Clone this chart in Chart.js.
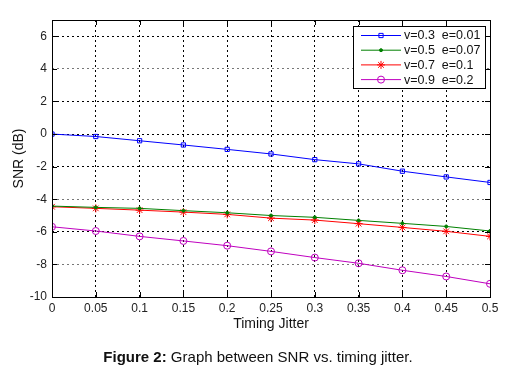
<!DOCTYPE html>
<html><head><meta charset="utf-8">
<script src="https://cdn.jsdelivr.net/npm/chart.js@4/dist/chart.umd.min.js"></script>
<style>
html,body{margin:0;padding:0;background:#fff;}
#wrap{position:relative;width:526px;height:381px;}
#cap{position:absolute;left:0;width:516px;top:348px;text-align:center;font:15px "Liberation Sans",Arial,sans-serif;color:#111;}
</style></head>
<body>
<div id="wrap"><canvas id="c" width="526" height="381"></canvas>
<div id="cap"><b>Figure 2:</b> Graph between SNR vs. timing jitter.</div></div>
<script>
const jitter = [0,0.05,0.1,0.15,0.2,0.25,0.3,0.35,0.4,0.45,0.5];
const xTickLabels = ['0','0.05','0.1','0.15','0.2','0.25','0.3','0.35','0.4','0.45','0.5'];
const yTicks = [-10,-8,-6,-4,-2,0,2,4,6];
const labels = ['v=0.3  e=0.01','v=0.5  e=0.07','v=0.7  e=0.1','v=0.9  e=0.2'];
const snrA = [0.0,-0.15,-0.41,-0.67,-0.94,-1.22,-1.57,-1.83,-2.28,-2.63,-2.97];
const snrB = [-4.42,-4.5,-4.56,-4.7,-4.83,-5.0,-5.11,-5.3,-5.48,-5.67,-5.95];
const snrC = [-4.46,-4.56,-4.67,-4.79,-4.93,-5.16,-5.28,-5.5,-5.73,-5.97,-6.28];
const snrD = [-5.69,-5.95,-6.28,-6.56,-6.85,-7.2,-7.58,-7.93,-8.36,-8.74,-9.19];

const colors = ['#0000ff','#008000','#ff0000','#bf00bf'];
const styles = [
  {pointStyle:'rect', radius:3, fill:false},
  {pointStyle:'circle', radius:1.5, fill:true},
  {pointStyle:'star', radius:4, fill:false},
  {pointStyle:'circle', radius:3.5, fill:false}
];
const series = [snrA,snrB,snrC,snrD];
const FONT = '"Liberation Sans", Arial, sans-serif';

const datasets = series.map((s,i)=>({
  label: labels[i],
  data: s.map((v,j)=>({x:jitter[j], y:v})),
  borderColor: colors[i],
  backgroundColor: styles[i].fill ? colors[i] : 'rgba(0,0,0,0)',
  borderWidth: 1,
  pointStyle: styles[i].pointStyle,
  pointRadius: styles[i].radius,
  pointBorderWidth: 1,
  pointBorderColor: colors[i],
  pointBackgroundColor: styles[i].fill ? colors[i] : 'rgba(0,0,0,0)',
  tension: 0
}));

const framePlugin = {
  id:'frame',
  afterDatasetsDraw(chart){
    const {ctx, chartArea:a, scales} = chart;
    ctx.save();
    ctx.strokeStyle = '#000';
    ctx.lineWidth = 1;
    ctx.strokeRect(Math.round(a.left)+0.5, Math.round(a.top)+0.5, Math.round(a.right-a.left), Math.round(a.bottom-a.top));
    ctx.beginPath();
    scales.x.ticks.forEach(t=>{
      const px = Math.round(scales.x.getPixelForValue(t.value))+0.5;
      ctx.moveTo(px,a.bottom); ctx.lineTo(px,a.bottom-5);
      ctx.moveTo(px,a.top); ctx.lineTo(px,a.top+5);
    });
    scales.y.ticks.forEach(t=>{
      const py = Math.round(scales.y.getPixelForValue(t.value))+0.5;
      ctx.moveTo(a.left,py); ctx.lineTo(a.left+5,py);
      ctx.moveTo(a.right,py); ctx.lineTo(a.right-5,py);
    });
    ctx.stroke();
    // legend box
    const lx=353.5, ly=26.5, lw=132, lh=62;
    ctx.fillStyle='#fff';
    ctx.fillRect(lx,ly,lw,lh);
    ctx.strokeStyle='#000';
    ctx.strokeRect(lx,ly,lw,lh);
    ctx.font = '12.5px '+FONT;
    ctx.textBaseline='middle';
    ctx.textAlign='left';
    chart.data.datasets.forEach((d,i)=>{
      const y = 35.5 + i*14.7;
      ctx.strokeStyle = d.borderColor;
      ctx.lineWidth = 1;
      ctx.beginPath(); ctx.moveTo(361,y); ctx.lineTo(401,y); ctx.stroke();
      ctx.fillStyle = d.pointBackgroundColor;
      ctx.strokeStyle = d.pointBorderColor;
      Chart.helpers.drawPoint(ctx, {pointStyle:d.pointStyle, radius:d.pointRadius, rotation:0, borderWidth:1}, 381, y);
      ctx.fillStyle='#111';
      ctx.fillText(d.label, 404, y+0.5);
    });
    ctx.restore();
  }
};

new Chart(document.getElementById('c'), {
  type:'line',
  data:{datasets},
  options:{
    responsive:false,
    animation:false,
    layout:{padding:{top:20,right:36,left:0,bottom:48}},
    plugins:{legend:{display:false}, tooltip:{enabled:false}},
    scales:{
      x:{
        type:'linear', min:0, max:0.5,
        afterBuildTicks(s){ s.ticks = jitter.map(v=>({value:v})); },
        afterFit(s){ s.height = 36; },
        ticks:{ callback:(v,i)=>xTickLabels[i], font:{family:FONT,size:12}, color:'#222', padding:4, maxRotation:0, autoSkip:false },
        grid:{ color:'#000', lineWidth:1, drawTicks:false, tickLength:0 },
        border:{ display:false, dash:[2,3] },
        title:{ display:true, text:'Timing Jitter', font:{family:FONT,size:14}, color:'#111', padding:{top:0,bottom:0} }
      },
      y:{
        min:-10, max:7,
        afterBuildTicks(s){ s.ticks = yTicks.map(v=>({value:v})); },
        afterFit(s){ s.width = 52; },
        ticks:{ font:{family:FONT,size:12}, color:'#222', padding:5, autoSkip:false },
        grid:{ color:(c)=>([4,-4,-8].includes(c.tick && c.tick.value) ? '#777' : '#000'), lineWidth:1, drawTicks:false, tickLength:0 },
        border:{ display:false, dash:[2,3] },
        title:{ display:true, text:'SNR (dB)', font:{family:FONT,size:14}, color:'#111', padding:{top:11,bottom:0} }
      }
    }
  },
  plugins:[framePlugin]
});
</script>
</body></html>
